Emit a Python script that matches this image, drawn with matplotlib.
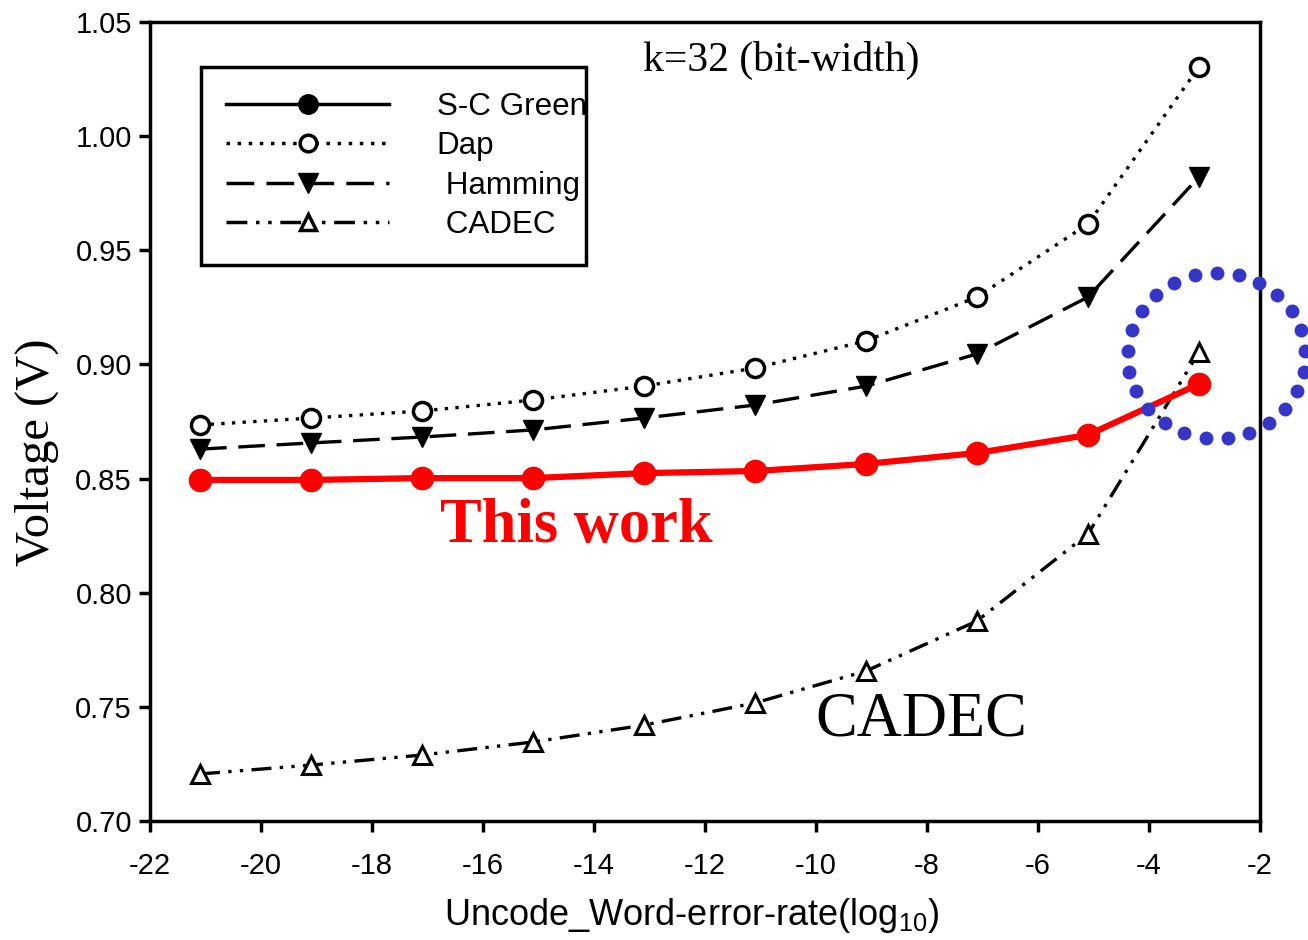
import numpy as np
import matplotlib.pyplot as plt
from matplotlib.lines import Line2D

# values
wer = [-21.1, -19.1, -17.1, -15.1, -13.1, -11.1, -9.1, -7.1, -5.1, -3.1]
sc_green = [0.8494, 0.8494, 0.8502, 0.8502, 0.8524, 0.8533, 0.8564, 0.8612, 0.8691, 0.8914]
dap = [0.8735, 0.8765, 0.8796, 0.8844, 0.8905, 0.8984, 0.9103, 0.9295, 0.9615, 1.0303]
hamming = [0.8629, 0.8656, 0.8682, 0.8713, 0.8765, 0.8822, 0.8905, 0.9046, 0.9295, 0.9821]
cadec = [0.7206, 0.7245, 0.7289, 0.7346, 0.7420, 0.7517, 0.7657, 0.7876, 0.8257, 0.9054]
labels = ["S-C Green", "Dap", " Hamming", " CADEC"]

serif = "Liberation Serif"
sans = "Liberation Sans"
plt.rcParams['font.family'] = sans
plt.rcParams['mathtext.default'] = 'regular'
plt.rcParams['axes.unicode_minus'] = False

fig = plt.figure(figsize=(13.08, 9.40), dpi=100)
ax = fig.add_axes([0.1147, 0.1266, 0.9633 - 0.1147, 0.9766 - 0.1266])

dotted = (0, (1, 2.2))
dashed = (0, (8, 3.5))
dashdotdot = (0, (6, 2.5, 1, 2.5, 1, 2.5))

ax.plot(wer, cadec, color='black', lw=2.4, ls=dashdotdot, marker='^', ms=13,
        mfc='white', mec='black', mew=2.2, zorder=3)
ax.plot(wer, dap, color='black', lw=2.4, ls=dotted, marker='o', ms=13,
        mfc='white', mec='black', mew=2.5, zorder=3)
ax.plot(wer, hamming, color='black', lw=2.4, ls=dashed, marker='v', ms=14,
        mfc='black', mec='black', zorder=3)
ax.plot(wer, sc_green, color='red', lw=4.5, marker='o', ms=16,
        mfc='red', mec='red', zorder=4)

# dotted blue ring highlighting the crossing point
cx, cy, rx, ry = -2.78, 0.9037, 1.6, 0.0364
t = np.pi / 2 + 2 * np.pi * np.arange(25) / 25
ax.plot(cx + rx * np.cos(t), cy + ry * np.sin(t), ls='none', marker='o', ms=9,
        color='#3535c8', clip_on=False, zorder=5)

ax.text(-16.77, 0.829, "This work", color='red', fontsize=45, fontweight='bold',
        family=serif, ha='left', va='center')
ax.text(-10.02, 0.744, "CADEC", color='black', fontsize=45, family=serif,
        ha='left', va='center')
ax.text(-13.12, 1.0331, "k=32 (bit-width)", color='black', fontsize=30, family=serif,
        ha='left', va='center')

ax.set_xlim(-22, -2)
ax.set_ylim(0.70, 1.05)
ax.set_xticks(np.arange(-22, -1, 2))
ax.set_yticks(np.arange(0.70, 1.051, 0.05))
ax.yaxis.set_major_formatter(plt.FormatStrFormatter('%.2f'))
ax.tick_params(direction='out', length=8, width=2.5, labelsize=21, pad=5)
ax.tick_params(axis='x', pad=14)
for s in ax.spines.values():
    s.set_linewidth(2.5)

ax.set_xlabel("Uncode_Word-error-rate(log$_{10}$)", fontsize=26, labelpad=12, x=0.488)
ax.set_ylabel("Voltage (V)", fontsize=35, family=serif, labelpad=12, y=0.462)

handles = [
    Line2D([], [], color='black', lw=2.5, marker='o', ms=14, mfc='black'),
    Line2D([], [], color='black', lw=2.5, ls=dotted, marker='o', ms=12,
           mfc='white', mew=2.5),
    Line2D([], [], color='black', lw=2.5, ls=dashed, marker='v', ms=14, mfc='black'),
    Line2D([], [], color='black', lw=2.5, ls=dashdotdot, marker='^', ms=12,
           mfc='white', mew=2.5),
]
leg = ax.legend(handles, labels, loc='upper left',
                bbox_to_anchor=(0.046, 0.7, 0.347, 0.244), mode='expand',
                borderaxespad=0, fontsize=22.6, handlelength=5.2, handletextpad=1.5,
                labelspacing=0.3, borderpad=0.8, fancybox=False, framealpha=1,
                edgecolor='black')
leg.get_frame().set_linewidth(2.5)

plt.savefig("out.png", dpi=100)
